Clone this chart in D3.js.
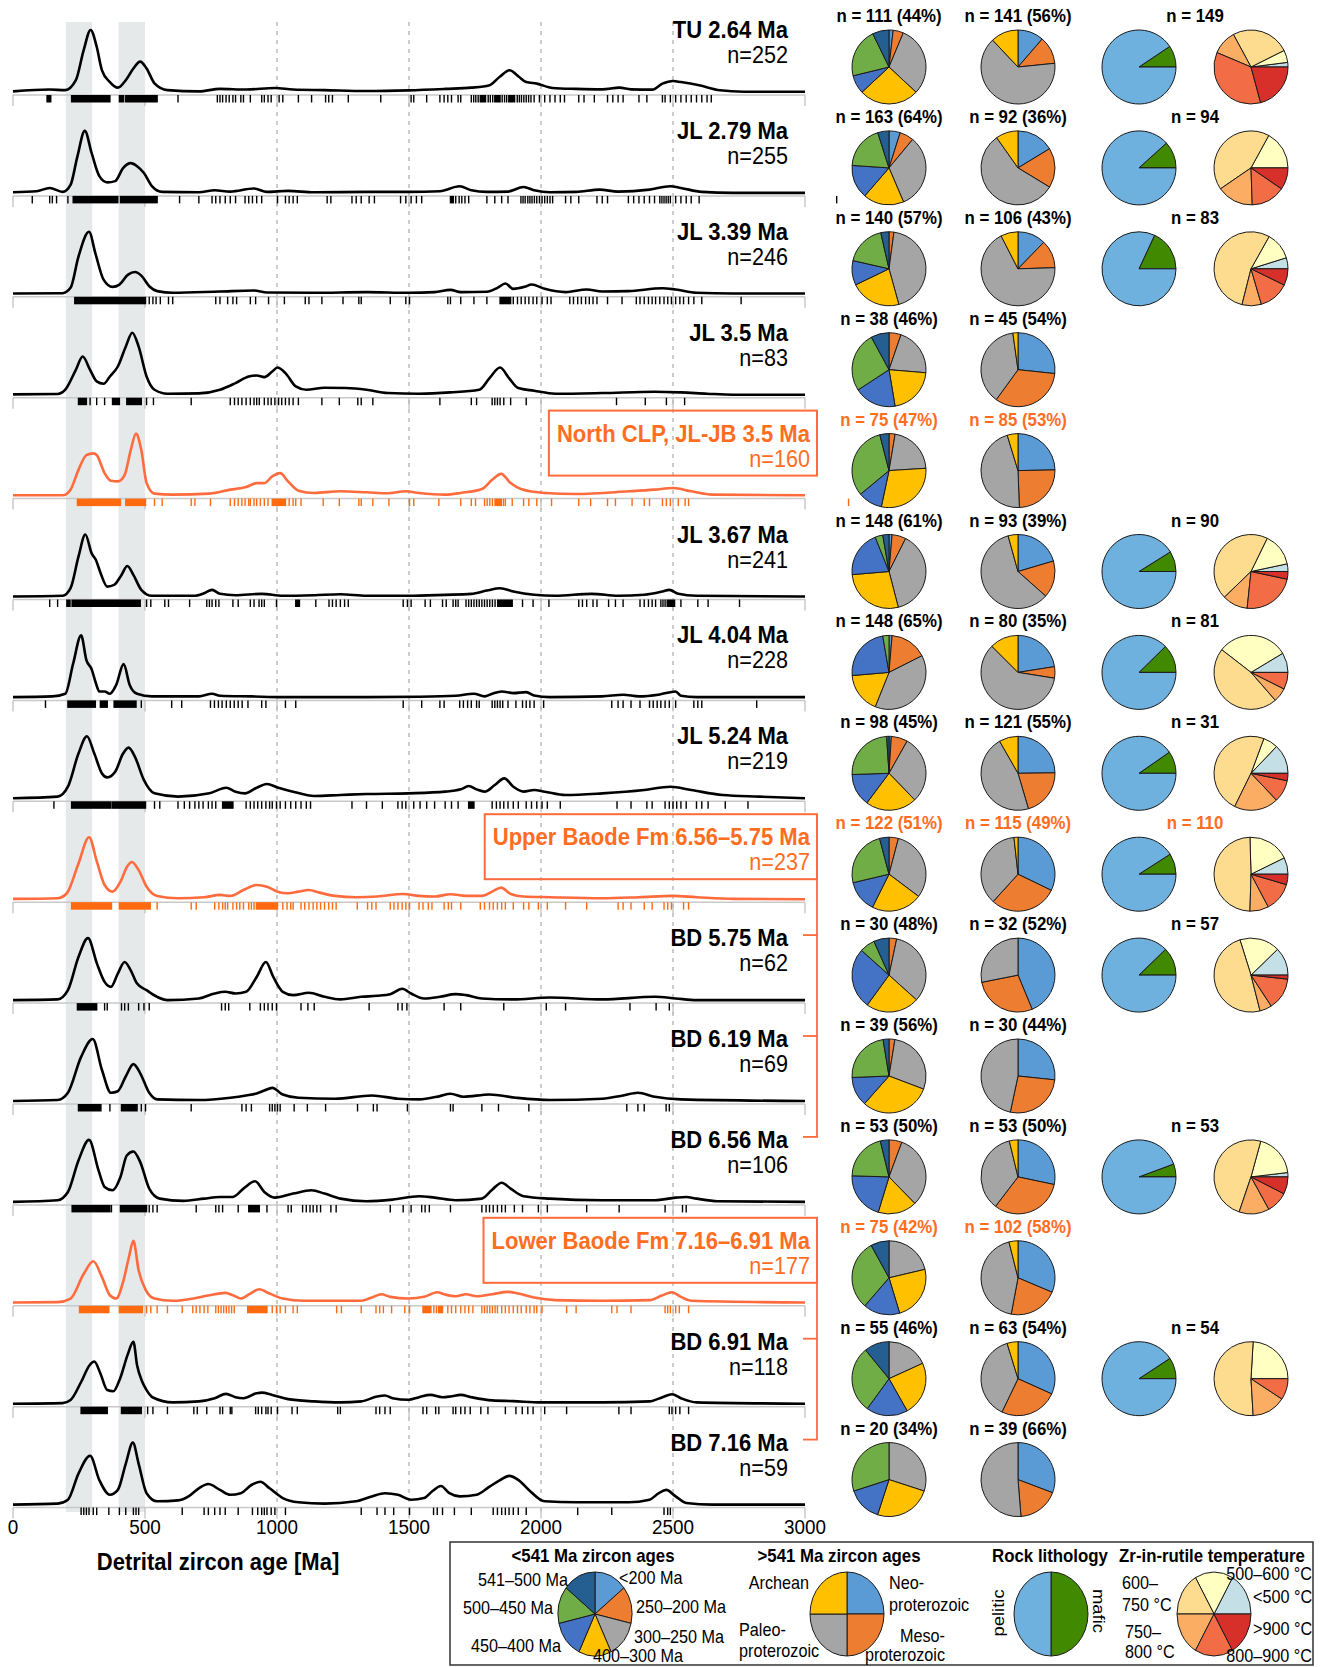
<!DOCTYPE html>
<html>
<head>
<meta charset="utf-8">
<script src="https://cdn.jsdelivr.net/npm/d3@7"></script>
<style>
  body { margin: 0; background: #fff; }
  svg text { font-family: "Liberation Sans", Arial, sans-serif; }
</style>
</head>
<body>
<svg id="chart" width="1324" height="1667"></svg>
<script>
// ---------- samples ----------
const sampleNames = ["TU 2.64 Ma", "JL 2.79 Ma", "JL 3.39 Ma", "JL 3.5 Ma", "North CLP, JL-JB 3.5 Ma",
  "JL 3.67 Ma", "JL 4.04 Ma", "JL 5.24 Ma", "Upper Baode Fm 6.56\u20135.75 Ma", "BD 5.75 Ma",
  "BD 6.19 Ma", "BD 6.56 Ma", "Lower Baode Fm 7.16\u20136.91 Ma", "BD 6.91 Ma", "BD 7.16 Ma"];
const sampleN = [252, 255, 246, 83, 160, 241, 228, 219, 237, 62, 69, 106, 177, 118, 59];
const isComposite = [false, false, false, false, true, false, false, false, true, false, false, false, true, false, false];

// composite groups: box row -> member rows
const compositeGroups = [[8, [9, 10, 11]], [12, [13, 14]]];

// ---------- axis ----------
const ageTicks = [0, 500, 1000, 1500, 2000, 2500, 3000];
const gridAges = [1000, 1500, 2000, 2500];
const bandRanges = [[200, 300], [400, 500]];

// ---------- density curves [age Ma, relative density] ----------
const kdeTU264 = [[0,.01],[139,.04],[198,.03],[238,.19],[268,.68],[294,1],[317,.73],[337,.35],[367,.16],[397,.07],[427,.19],[456,.38],[482,.49],[506,.38],[536,.14],[585,.03],[704,.01],[784,.05],[883,.04],[992,.065],[1061,.04],[1180,.03],[1339,.016],[1498,.027],[1637,.05],[1736,.07],[1805,.11],[1845,.25],[1881,.35],[1915,.25],[1944,.16],[1984,.135],[2044,.065],[2133,.05],[2232,.043],[2297,.07],[2341,.043],[2421,.038],[2460,.135],[2500,.178],[2530,.16],[2599,.108],[2678,.027],[2768,.005],[3000,.005]];
const kdeJL279 = [[0,.01],[89,.027],[139,.08],[188,.016],[218,.13],[244,.59],[272,1],[298,.64],[327,.27],[357,.17],[387,.19],[417,.40],[446,.48],[470,.43],[496,.32],[526,.11],[566,.016],[704,.01],[764,.043],[823,.021],[913,.07],[962,.016],[1042,.032],[1141,.01],[1339,.016],[1498,.016],[1617,.027],[1692,.107],[1736,.043],[1795,.016],[1875,.021],[1934,.096],[1974,.043],[2034,.01],[2133,.016],[2222,.053],[2292,.021],[2411,.053],[2490,.107],[2530,.08],[2609,.016],[2728,0],[3000,0]];
const kdeJL339 = [[0,.005],[188,.01],[218,.096],[248,.6],[288,1],[312,.654],[343,.229],[377,.112],[403,.149],[436,.309],[462,.351],[486,.293],[516,.122],[546,.043],[605,.016],[784,.037],[913,.053],[962,.021],[1141,.016],[1339,.027],[1498,.016],[1597,.027],[1657,.064],[1696,.027],[1795,.032],[1835,.096],[1865,.165],[1895,.08],[1938,.112],[1964,.149],[2014,.08],[2093,.027],[2173,.069],[2232,.037],[2331,.043],[2460,.09],[2510,.069],[2589,.016],[2728,.005],[3000,.005]];
const kdeJL350 = [[0,.005],[169,.011],[198,.08],[238,.401],[264,.615],[292,.401],[317,.214],[343,.176],[367,.294],[397,.455],[427,.775],[452,1],[476,.775],[506,.294],[536,.08],[585,.016],[704,.021],[784,.08],[843,.187],[893,.294],[923,.31],[952,.283],[982,.374],[1002,.438],[1032,.348],[1071,.134],[1111,.08],[1180,.112],[1260,.107],[1339,.08],[1419,.027],[1537,.016],[1657,.037],[1766,.08],[1805,.267],[1845,.438],[1879,.267],[1914,.107],[1974,.064],[2054,.016],[2232,.027],[2431,.048],[2530,.037],[2629,.016],[2728,0],[3000,0]];
const kdeNorthCLP = [[0,.005],[188,.005],[218,.096],[248,.415],[278,.654],[304,.681],[317,.654],[347,.362],[371,.239],[397,.229],[423,.335],[446,.734],[466,1],[486,.734],[506,.202],[536,.032],[605,.016],[744,.032],[823,.096],[883,.138],[923,.202],[952,.202],[982,.309],[1012,.362],[1042,.229],[1081,.08],[1141,.043],[1240,.069],[1339,.053],[1419,.037],[1488,.069],[1537,.043],[1637,.016],[1696,.043],[1776,.106],[1815,.255],[1849,.351],[1885,.202],[1924,.106],[2014,.043],[2133,.027],[2331,.069],[2430,.096],[2500,.122],[2569,.069],[2649,.016],[3000,.005]];
const kdeJL367 = [[0,0],[188,.011],[218,.134],[248,.642],[274,1],[298,.695],[314,.588],[332,.374],[357,.16],[383,.187],[411,.348],[433,.492],[456,.348],[486,.107],[526,.011],[685,.011],[724,.053],[754,.107],[784,.043],[843,.021],[942,.043],[1022,.011],[1141,.021],[1240,.037],[1339,.011],[1498,.011],[1637,.027],[1736,.043],[1795,.096],[1845,.134],[1895,.08],[1974,.027],[2054,.011],[2192,.043],[2292,.011],[2391,.027],[2460,.08],[2486,.107],[2520,.043],[2589,.011],[3000,0]];
const kdeJL404 = [[0,.005],[149,.016],[198,.059],[228,.548],[258,1],[278,.601],[298,.452],[314,.229],[327,.096],[347,.096],[367,.059],[391,.202],[419,.537],[442,.202],[470,.059],[526,.016],[704,.016],[754,.059],[784,.027],[903,.016],[1022,.005],[1339,.005],[1537,.011],[1677,.027],[1746,.059],[1786,.016],[1815,.059],[1851,.096],[1895,.069],[1944,.085],[1974,.032],[2034,.005],[2232,.016],[2311,.043],[2371,.016],[2450,.048],[2510,.096],[2530,.027],[2589,.005],[3000,.005]];
const kdeJL524 = [[0,0],[169,.027],[208,.187],[248,.722],[280,1],[308,.722],[337,.401],[357,.337],[387,.428],[417,.722],[438,.818],[462,.668],[496,.294],[536,.08],[625,.027],[744,.08],[808,.171],[843,.107],[879,.08],[923,.171],[962,.23],[1002,.176],[1061,.107],[1141,.037],[1240,.053],[1339,.069],[1498,.08],[1637,.107],[1696,.144],[1726,.198],[1756,.144],[1786,.107],[1825,.214],[1861,.321],[1895,.187],[1934,.107],[1974,.134],[2014,.107],[2093,.053],[2232,.08],[2391,.134],[2490,.187],[2569,.134],[2688,.053],[2827,.027],[3000,0]];
const kdeUpperBaode = [[0,.005],[169,.016],[204,.096],[248,.575],[288,1],[318,.601],[347,.229],[377,.122],[407,.282],[433,.532],[450,.601],[476,.468],[506,.202],[546,.053],[625,.016],[724,.032],[784,.069],[823,.053],[873,.149],[923,.229],[962,.202],[1002,.122],[1042,.096],[1081,.122],[1121,.149],[1161,.106],[1220,.053],[1300,.032],[1379,.043],[1478,.085],[1537,.053],[1597,.043],[1657,.08],[1716,.053],[1776,.053],[1815,.122],[1849,.186],[1885,.085],[1934,.043],[2034,.032],[2232,.016],[2371,.032],[2500,.053],[2589,.032],[2728,.005],[3000,0]];
const kdeBD575 = [[0,0],[169,.011],[208,.16],[248,.695],[284,1],[318,.588],[347,.294],[371,.214],[397,.428],[423,.615],[446,.481],[470,.267],[506,.16],[546,.053],[585,0],[704,.027],[764,.107],[804,.134],[843,.107],[883,.134],[923,.374],[958,.615],[986,.374],[1022,.134],[1061,.08],[1121,.118],[1180,.053],[1240,.011],[1319,.053],[1379,.069],[1429,.096],[1474,.182],[1508,.107],[1557,.027],[1617,.053],[1677,.096],[1716,.08],[1776,.027],[1895,.011],[2034,.043],[2232,.011],[2431,.053],[2510,.027],[2589,0],[3000,0]];
const kdeBD619 = [[0,0],[169,.016],[208,.132],[258,.711],[302,1],[337,.5],[371,.132],[397,.158],[427,.395],[456,.595],[482,.447],[516,.132],[546,.026],[704,.016],[823,.053],[883,.089],[923,.121],[952,.168],[982,.211],[1022,.105],[1081,.053],[1220,.037],[1359,.089],[1458,.037],[1538,.026],[1617,.079],[1657,.116],[1706,.068],[1805,.105],[1905,.053],[2034,.016],[2232,.037],[2311,.089],[2367,.132],[2431,.068],[2530,.026],[3000,0]];
const kdeBD656 = [[0,0],[169,.027],[208,.16],[248,.668],[288,1],[324,.508],[347,.241],[377,.187],[407,.401],[431,.749],[456,.813],[482,.642],[516,.214],[556,.053],[645,.016],[724,.053],[784,.08],[833,.08],[873,.214],[917,.332],[952,.16],[992,.069],[1061,.134],[1131,.187],[1180,.134],[1240,.053],[1339,.011],[1438,.037],[1538,.091],[1597,.069],[1677,.027],[1776,.053],[1815,.197],[1851,.31],[1885,.214],[1934,.091],[2034,.053],[2232,.027],[2431,.027],[2510,.069],[2550,.08],[2589,.053],[2669,.011],[3000,0]];
const kdeLowerBaode = [[0,.005],[169,.011],[218,.069],[268,.468],[304,.67],[337,.415],[367,.122],[391,.069],[417,.335],[439,.734],[456,1],[476,.521],[502,.213],[536,.069],[605,.032],[684,.069],[744,.122],[804,.16],[833,.122],[863,.069],[899,.149],[933,.218],[972,.149],[1022,.069],[1101,.032],[1220,.032],[1319,.032],[1359,.085],[1395,.138],[1429,.096],[1498,.069],[1557,.096],[1607,.17],[1637,.133],[1677,.106],[1716,.138],[1756,.106],[1815,.138],[1875,.176],[1914,.149],[1974,.085],[2054,.043],[2232,.032],[2411,.043],[2460,.122],[2496,.17],[2530,.096],[2569,.032],[3000,.005]];
const kdeBD691 = [[0,0],[188,.01],[218,.06],[258,.35],[290,.62],[308,.68],[330,.5],[357,.22],[380,.2],[405,.4],[435,.8],[456,1],[470,.62],[490,.35],[506,.22],[530,.1],[605,.021],[704,.037],[764,.089],[807,.158],[843,.105],[873,.089],[923,.168],[942,.179],[982,.142],[1042,.074],[1141,.037],[1240,.021],[1319,.037],[1379,.116],[1409,.132],[1438,.089],[1498,.063],[1538,.105],[1581,.142],[1627,.105],[1657,.116],[1696,.142],[1736,.105],[1815,.053],[1895,.042],[2000,.021],[2232,.021],[2411,.037],[2460,.105],[2496,.153],[2530,.089],[2589,.021],[3000,0]];
const kdeBD716 = [[0,0],[169,.016],[208,.079],[248,.5],[292,.789],[327,.395],[367,.158],[397,.237],[427,.658],[454,1],[476,.658],[506,.184],[546,.053],[625,.068],[665,.132],[704,.263],[740,.332],[784,.237],[823,.158],[863,.184],[903,.316],[937,.368],[972,.263],[1022,.105],[1081,.037],[1180,.016],[1299,.053],[1359,.132],[1409,.184],[1458,.158],[1508,.079],[1557,.105],[1587,.211],[1621,.3],[1653,.184],[1692,.132],[1756,.158],[1805,.289],[1845,.395],[1879,.463],[1915,.395],[1954,.237],[2014,.053],[2133,.037],[2331,.037],[2411,.079],[2446,.184],[2474,.237],[2510,.132],[2550,.026],[2649,0],[3000,0]];
const kdeRows = [kdeTU264, kdeJL279, kdeJL339, kdeJL350, kdeNorthCLP, kdeJL367, kdeJL404, kdeJL524,
  kdeUpperBaode, kdeBD575, kdeBD619, kdeBD656, kdeLowerBaode, kdeBD691, kdeBD716];

// ---------- single-grain ages (rug); [from, to] marks a run of closely spaced grains ----------
const rugTU264 = [[129,143],[222,367],[403,419],[427,546],625,774,784,794,807,819,833,843,863,873,899,942,952,966,978,1008,1022,1081,1131,1184,1196,1210,1270,1393,1508,1518,1567,1617,1633,1647,1661,1686,1696,1736,1745,1753,1762,[1770,1790],1800,1808,1817,[1825,1845],1853,1862,1870,[1878,1900],1910,1918,1926,1935,1944,1953,1962,1974,1994,2014,2034,2053,2073,2089,2143,2163,2202,2252,2272,2292,2311,2371,2401,2460,2470,2490,2510,2530,2550,2569,2589,2609,2629,2645];
const rugJL279 = [73,139,149,165,208,[228,397],[407,546],631,704,754,768,784,804,823,843,879,893,907,923,942,1002,1032,1046,1061,1077,1190,1204,1284,1300,1319,1349,1369,1468,1488,1508,1528,1548,[1657,1668],1677,1690,1700,1712,1726,1795,1825,1851,1875,1924,1932,1940,1950,1958,1966,1975,1984,1994,2004,2014,2024,2034,2044,2093,2113,2143,2212,2232,2252,2331,2351,2371,2391,2411,2430,2450,2458,2466,2474,2482,2490,2510,2530,2550,2569,2599,3120];
const rugJL339 = [[234,502],516,530,542,558,589,605,768,784,813,833,847,899,919,968,1028,1107,1121,1170,1250,1310,1319,1429,1488,1502,1647,1657,1696,1746,1795,[1845,1885],1895,1911,1925,1940,1954,1970,1984,2004,2024,2038,2109,2123,2139,2153,2169,2183,2197,2212,2252,2307,2361,2375,2391,2407,2421,2434,2450,2466,2480,2494,2510,2526,2540,2559,2579,2609,2758];
const rugJL350 = [[248,278],292,317,347,[377,403],[431,486],506,532,675,823,839,853,867,883,899,913,923,933,952,966,978,992,1006,1018,1032,1046,1061,1081,1170,1236,1306,1319,1363,1617,1736,1756,1815,1825,1835,1845,1859,1885,1944,2286,2395,2475,2544];
const rugNorthCLP = [[244,407],[427,502],536,565,675,689,748,823,839,853,867,879,893,899,913,923,937,952,966,[982,1032],1046,1061,1071,1091,1175,1236,1310,1319,1363,1424,1502,1518,1613,1696,1736,1752,1786,1796,1806,1816,[1826,1850],1858,1865,1891,1934,1954,1984,2040,2143,2188,2252,2282,2345,2391,2411,2460,2475,2490,2520,2546,2559,3165];
const rugJL367 = [139,169,[204,216],[224,482],506,522,575,589,669,734,744,754,768,780,833,853,899,913,932,942,952,998,[1071,1085],1147,1197,1210,1224,1240,1256,1270,1478,1494,1508,1561,1581,1627,1641,1667,1677,1686,1716,1726,1736,1746,1756,1766,1776,1786,1796,1806,1816,1826,[1836,1891],1930,1970,2030,2143,2157,2173,2197,2212,2256,2282,2311,2375,2391,2407,2421,2434,2454,2462,2470,[2478,2506],2530,2594,2633,2752];
const rugJL404 = [123,[208,312],[331,357],[383,466],486,601,639,748,763,778,792,808,823,838,853,868,890,942,958,1032,1071,1478,1548,1617,1633,1692,1706,1722,1736,1756,1766,1815,1825,1835,1845,1855,1875,1905,1930,1944,1958,1974,2010,2268,2292,2311,2341,2375,2411,2425,2440,2454,2470,2486,2510,2579,2594,2609,2817];
const rugJL524 = [155,[222,371],[377,502],536,556,625,649,669,689,704,720,740,754,768,[794,833],883,899,913,927,942,958,972,982,998,1012,1032,1052,1071,1091,1111,1127,1284,1339,1399,1458,1474,1488,1518,1542,1567,1597,1637,1661,1686,[1726,1746],1815,1831,1845,1859,1875,1895,1914,1944,1964,1984,2004,2024,2073,2288,2341,2401,2421,2470,2486,2500,2514,2530,2550,2589,2609,2633,2698,2784];
const rugUpperBaode = [[222,373],[403,520],546,675,694,764,780,794,804,813,833,847,859,873,893,903,913,[922,1002],1022,1038,1052,1061,1091,1105,1121,1137,1151,1165,1180,1196,1210,1224,1304,1343,1359,1375,1429,1443,1458,1474,1488,1502,1538,1553,1573,1587,1633,1649,1661,1696,1770,1786,1805,1819,1835,1851,1865,1895,1934,1954,1990,2024,2093,2173,2292,2311,2341,2391,2421,2466,2480,2494,2540,2559];
const rugBD575 = [[244,317],347,357,411,423,437,476,496,516,790,804,817,897,937,952,966,982,998,1091,1117,1141,1349,1458,1474,1492,1633,1696,1859,2020,2093,2337,2436,2486];
const rugBD619 = [[248,333],367,[411,470],486,502,675,867,883,903,972,982,992,1002,1012,1065,1115,1184,1305,1365,1379,1494,1657,1667,1776,1839,1954,2325,2367,2391,2474,2486];
const rugBD656 = [[224,367],373,[407,506],516,530,546,694,768,780,794,853,[893,933],962,1042,1054,1097,1111,1125,1137,1151,1165,1204,1224,1429,1478,1508,1548,1561,1577,1657,1776,1792,1805,1819,1835,1851,1865,1899,1930,1990,2024,2173,2296,2470,2536,2550];
const rugLowerBaode = [[252,363],[403,490],506,522,546,585,641,681,694,708,724,738,768,778,788,798,808,818,828,838,[889,962],982,998,1012,1032,1061,1077,1226,1244,1319,1375,1389,1403,1434,1484,1502,[1553,1583],1594,1604,[1612,1627],1647,1661,1677,1696,1712,1726,1742,1776,1786,1796,1806,1816,1826,1835,1851,1865,1879,1895,1911,1925,1944,1958,1974,1984,2004,2097,2133,2268,2288,2341,2470,2480,2490,2510,2524,2559];
const rugBD691 = [[258,357],[411,486],510,530,585,685,698,734,784,794,823,829,919,929,942,958,966,978,1002,1057,1077,1230,1240,1375,1389,1409,1429,1553,1567,1601,1613,1667,1677,1696,1712,1732,1772,1799,1865,1905,1929,1950,1970,2014,2097,2295,2341,2486,2496,2510,2526,2559];
const rugBD716 = [258,268,278,288,304,317,363,403,427,456,466,476,641,724,740,764,784,804,853,907,927,942,952,962,978,992,1032,1319,1379,1409,1442,1502,1593,1607,1627,1672,1736,1819,1835,1851,1865,1879,1895,1914,1944,2139,2268,2466,2480,2490];
const rugRows = [rugTU264, rugJL279, rugJL339, rugJL350, rugNorthCLP, rugJL367, rugJL404, rugJL524,
  rugUpperBaode, rugBD575, rugBD619, rugBD656, rugLowerBaode, rugBD691, rugBD716];

// ---------- pie charts ----------
// <541 Ma grain counts: <200, 250-200, 300-250, 400-300, 450-400, 500-450, 541-500 Ma
const youngCounts = [[2,5,34,29,9,24,8],[8,10,53,29,24,31,8],[0,3,61,31,15,25,5],[0,2,8,8,7,10,3],[0,2,16,22,8,24,3],
  [2,9,57,41,30,5,4],[2,24,57,26,35,4,0],[1,7,29,22,14,24,1],[0,5,38,27,17,30,5],[0,1,10,7,8,2,2],
  [0,1,11,12,5,9,1],[0,3,17,9,11,11,2],[0,0,16,18,12,23,6],[0,0,10,13,10,16,6],[0,0,6,5,3,6,0]];
const youngPct = [44, 64, 57, 46, 47, 61, 65, 45, 51, 48, 56, 50, 42, 46, 34];
// >541 Ma grain counts: Neoproterozoic, Mesoproterozoic, Paleoproterozoic, Archean
const oldCounts = [[16,17,91,17],[15,16,52,9],[13,13,72,8],[12,15,17,1],[21,21,39,4],
  [19,15,55,4],[18,4,48,10],[30,25,56,10],[37,34,42,2],[14,9,9,0],
  [8,8,14,0],[15,17,19,2],[32,22,44,4],[20,16,24,3],[12,7,20,0]];
const oldPct = [56, 36, 43, 54, 53, 39, 35, 55, 49, 52, 44, 50, 58, 54, 66];
// rutile host lithology: mafic, pelitic
const lithoCounts = [[14,135],[11,83],[15,68],null,null,[8,82],[10,71],[3,28],[10,100],[7,50],null,[3,50],null,[5,49],null];
// Zr-in-rutile temperature: <500, 500-600, 600-750, 750-800, 800-900, >900 degC
const tempCounts = [[3,8,38,16,53,31],[0,16,40,15,14,9],[4,10,45,7,11,6],null,null,[3,13,40,10,21,3],[7,25,38,5,6,0],
  [4,2,15,6,3,1],[8,20,54,9,14,5],[7,10,28,3,8,1],null,[1,10,26,7,5,4],null,[0,13,28,8,5,0],null];

const youngClasses = ["<200 Ma", "250\u2013200 Ma", "300\u2013250 Ma", "400\u2013300 Ma", "450\u2013400 Ma", "500\u2013450 Ma", "541\u2013500 Ma"];
const youngColors = ["#5b9bd5", "#ed7d31", "#a5a5a5", "#ffc000", "#4472c4", "#70ad47", "#255e91"];
const oldColors = ["#5b9bd5", "#ed7d31", "#a5a5a5", "#ffc000"];
const lithoColors = ["#418a00", "#6eb0de"];
const tempColors = ["#c4e0e6", "#ffffc2", "#fddc90", "#fbad63", "#f26d45", "#d7302b"];

// ---------- drawing ----------
const svg = d3.select("#chart");
const x = d3.scaleLinear().domain([0, 3000]).range([13, 805]);
const rowBase = d3.scaleLinear().domain([0, sampleNames.length - 1]).range([92, 1504.6]);
const peakH = 62;
const ORANGE_LINE = "#ff6b3d", ORANGE_TEXT = "#ff6d1f", ORANGE_RUG = "#ff6a10";
const NARROW = 0.9; // condensed lettering

// text helper: condensed glyphs placed at (px, py)
function label(parent, str, px, py, size, opts = {}) {
  return parent.append("text")
    .attr("transform", `translate(${px},${py}) scale(${NARROW},1)` + (opts.rotate ? ` rotate(${opts.rotate})` : ""))
    .attr("text-anchor", opts.anchor || "start")
    .attr("font-size", size)
    .attr("font-weight", opts.bold ? "bold" : "normal")
    .attr("fill", opts.fill || "#000")
    .text(str);
}

// highlighted age windows
svg.append("g").selectAll("rect").data(bandRanges).join("rect")
  .attr("x", d => x(d[0])).attr("width", d => x(d[1]) - x(d[0]))
  .attr("y", 22).attr("height", 1490).attr("fill", "#e6e9e9");

// dashed reference ages
svg.append("g").selectAll("line").data(gridAges).join("line")
  .attr("x1", d => x(d)).attr("x2", d => x(d)).attr("y1", 22).attr("y2", 1512)
  .attr("stroke", "#a3a3a3").attr("stroke-width", 1.1).attr("stroke-dasharray", "4,5");

const pieCW = d3.pie().sort(null).startAngle(0).endAngle(2 * Math.PI);
const pieCCW = d3.pie().sort(null).startAngle(Math.PI / 2).endAngle(Math.PI / 2 - 2 * Math.PI);
const arcRow = d3.arc().innerRadius(0).outerRadius(37);
const pieCols = [889, 1018, 1139, 1251];

function drawPie(g, cx, cy, counts, colors, layout, arcGen, scaleXY) {
  const pg = g.append("g").attr("transform", `translate(${cx},${cy})` + (scaleXY ? ` scale(${scaleXY[0]},${scaleXY[1]})` : ""));
  pg.selectAll("path").data(layout(counts).filter(d => d.value > 0)).join("path")
    .attr("d", arcGen)
    .attr("fill", d => colors[d.index])
    .attr("stroke", "#1a1a1a").attr("stroke-width", 1)
    .attr("vector-effect", "non-scaling-stroke");
}

sampleNames.forEach((name, i) => {
  const y0 = rowBase(i);
  const comp = isComposite[i];
  const g = svg.append("g");

  // row axis
  g.append("line").attr("x1", x(0)).attr("x2", x(3000)).attr("y1", y0 + 3).attr("y2", y0 + 3)
    .attr("stroke", "#c9c9c9").attr("stroke-width", 1.5);
  g.selectAll("line.tick").data(ageTicks).join("line").attr("class", "tick")
    .attr("x1", d => x(d)).attr("x2", d => x(d)).attr("y1", y0 + 3).attr("y2", y0 + 14)
    .attr("stroke", "#bdbdbd").attr("stroke-width", 1.2);

  // rug of single-grain ages
  const rugColor = comp ? ORANGE_RUG : "#000";
  rugRows[i].forEach(r => {
    if (Array.isArray(r)) {
      g.append("rect").attr("x", x(r[0]) - 0.7).attr("width", x(r[1]) - x(r[0]) + 1.4)
        .attr("y", y0 + 3).attr("height", 7.5).attr("fill", rugColor);
    } else {
      g.append("line").attr("x1", x(r)).attr("x2", x(r)).attr("y1", y0 + 3).attr("y2", y0 + 10.5)
        .attr("stroke", rugColor).attr("stroke-width", 1.4);
    }
  });

  // density curve
  const line = d3.line().x(d => x(d[0])).y(d => y0 - d[1] * peakH).curve(d3.curveMonotoneX);
  g.append("path").attr("d", line(kdeRows[i])).attr("fill", "none")
    .attr("stroke", comp ? ORANGE_LINE : "#000").attr("stroke-width", 2.6)
    .attr("stroke-linejoin", "round");

  // sample label
  const tx = comp ? 810 : 788;
  const col = comp ? ORANGE_TEXT : "#000";
  const title = label(g, name, tx, y0 - 54, 24.5, { anchor: "end", bold: true, fill: col });
  label(g, "n=" + sampleN[i], tx, y0 - 29, 24, { anchor: "end", fill: col });
  if (comp) {
    const left = tx - title.node().getComputedTextLength() * NARROW - 8;
    g.append("rect").attr("x", left).attr("y", y0 - 85).attr("width", 817 - left).attr("height", 65)
      .attr("fill", "none").attr("stroke", ORANGE_LINE).attr("stroke-width", 2);
  }

  // pies
  const cy = y0 - 25;
  const ly = y0 - 70;
  const young = youngCounts[i], old = oldCounts[i];
  label(g, `n = ${d3.sum(young)} (${youngPct[i]}%)`, pieCols[0], ly, 18.7, { anchor: "middle", bold: true, fill: col });
  drawPie(g, pieCols[0], cy, young, youngColors, pieCW, arcRow);
  label(g, `n = ${d3.sum(old)} (${oldPct[i]}%)`, pieCols[1], ly, 18.7, { anchor: "middle", bold: true, fill: col });
  drawPie(g, pieCols[1], cy, old, oldColors, pieCW, arcRow);
  if (lithoCounts[i]) {
    label(g, `n = ${d3.sum(lithoCounts[i])}`, (pieCols[2] + pieCols[3]) / 2, ly, 18.7, { anchor: "middle", bold: true, fill: col });
    drawPie(g, pieCols[2], cy, lithoCounts[i], lithoColors, pieCCW, arcRow);
    drawPie(g, pieCols[3], cy, tempCounts[i], tempColors, pieCCW, arcRow);
  }
});

// brackets joining composite samples to their members
compositeGroups.forEach(([boxRow, members]) => {
  const top = rowBase(boxRow) - 20;
  const bottom = rowBase(members[members.length - 1]) - 65;
  svg.append("line").attr("x1", 817).attr("x2", 817).attr("y1", top).attr("y2", bottom)
    .attr("stroke", ORANGE_LINE).attr("stroke-width", 1.8);
  members.forEach(m => {
    svg.append("line").attr("x1", 803).attr("x2", 817.9).attr("y1", rowBase(m) - 65).attr("y2", rowBase(m) - 65)
      .attr("stroke", ORANGE_LINE).attr("stroke-width", 1.8);
  });
});

// bottom axis labels
const axisG = svg.append("g");
ageTicks.forEach(t => label(axisG, String(t), x(t), 1534, 21, { anchor: "middle" }));
label(svg, "Detrital zircon age [Ma]", 218, 1570, 24.5, { anchor: "middle", bold: true });

// ---------- legend ----------
const legend = svg.append("g");
legend.append("rect").attr("x", 450).attr("y", 1542).attr("width", 863).attr("height", 123)
  .attr("fill", "#fff").attr("stroke", "#333").attr("stroke-width", 1.5);

const legendTitles = [["<541 Ma zircon ages", 593], [">541 Ma zircon ages", 839], ["Rock lithology", 1050], ["Zr-in-rutile temperature", 1212]];
legendTitles.forEach(d => label(legend, d[0], d[1], 1562, 18.7, { anchor: "middle", bold: true }));

const unitArc = d3.arc().innerRadius(0).outerRadius(1);
const lgY = 1614, lgRX = 37, lgRY = 42;
drawPie(legend, 595, lgY, [1, 1, 1, 1, 1, 1, 1], youngColors, pieCW, unitArc, [lgRX, lgRY]);
drawPie(legend, 847, lgY, [1, 1, 1, 1], oldColors, pieCW, unitArc, [lgRX, lgRY]);
drawPie(legend, 1051, lgY, [1, 1], lithoColors, pieCW, unitArc, [lgRX, lgRY]);
drawPie(legend, 1214, lgY, [1, 1, 1, 1, 1, 1], tempColors, pieCCW, unitArc, [lgRX, lgRY]);

const legendLabels = [
  [youngClasses[6], 568, 1586, "end"], [youngClasses[0], 619, 1584, "start"],
  [youngClasses[5], 553, 1614, "end"], [youngClasses[1], 636, 1613, "start"],
  [youngClasses[4], 561, 1652, "end"], [youngClasses[2], 634, 1643, "start"],
  [youngClasses[3], 593, 1662, "start"],
  ["Archean", 809, 1589, "end"], ["Neo-", 889, 1589, "start"], ["proterozoic", 889, 1611, "start"],
  ["Paleo-", 739, 1636, "start"], ["proterozoic", 739, 1657, "start"],
  ["Meso-", 945, 1642, "end"], ["proterozoic", 945, 1661, "end"],
  ["500\u2013600 \u00b0C", 1312, 1580, "end"], ["<500 \u00b0C", 1253, 1603, "start"],
  [">900 \u00b0C", 1253, 1635, "start"], ["800\u2013900 \u00b0C", 1312, 1662, "end"],
  ["600\u2013", 1122, 1589, "start"], ["750 \u00b0C", 1122, 1611, "start"],
  ["750\u2013", 1125, 1638, "start"], ["800 \u00b0C", 1125, 1658, "start"]
];
legendLabels.forEach(d => label(legend, d[0], d[1], d[2], 18, { anchor: d[3] }));

label(legend, "pelitic", 1004, 1613, 18.5, { anchor: "middle", rotate: -90 });
label(legend, "mafic", 1093, 1611, 18.5, { anchor: "middle", rotate: 90 });
</script>
</body>
</html>
